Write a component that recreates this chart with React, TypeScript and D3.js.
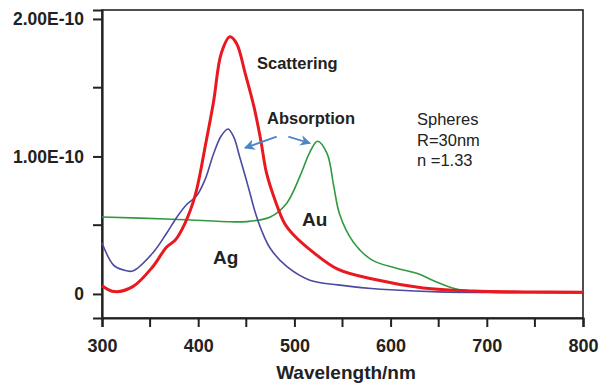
import React, { useEffect, useRef } from 'react';
import * as d3 from 'd3';

// Ag scattering (red), values in units of 1e-10
const scatAgX = [300, 313, 332, 353, 367, 376, 386, 397, 408, 416, 424, 433, 440, 449, 458, 465, 471, 480, 490, 499, 520, 545, 580, 634, 686, 740, 800];
const scatAgY = [0.06, 0.017, 0.053, 0.2, 0.34, 0.39, 0.51, 0.72, 1.1, 1.4, 1.75, 1.87, 1.82, 1.6, 1.36, 1.12, 0.88, 0.68, 0.51, 0.43, 0.30, 0.18, 0.11, 0.044, 0.022, 0.015, 0.012];

// Ag absorption (blue)
const absAgX = [300, 312, 322, 332, 353, 367, 378, 388, 398, 407, 416, 424, 431, 437, 443, 452, 459, 466, 475, 492, 516, 545, 580, 600, 650, 700, 800];
const absAgY = [0.37, 0.21, 0.175, 0.167, 0.30, 0.44, 0.56, 0.65, 0.71, 0.83, 1.02, 1.15, 1.20, 1.14, 1.00, 0.78, 0.60, 0.46, 0.33, 0.20, 0.10, 0.066, 0.04, 0.03, 0.015, 0.01, 0.008];

// Au absorption (green)
const absAuX = [300, 367, 433, 450, 475, 492, 506, 516, 524, 534, 541, 547, 561, 580, 606, 627, 651, 672, 700, 800];
const absAuY = [0.56, 0.545, 0.525, 0.526, 0.56, 0.66, 0.86, 1.03, 1.11, 1.02, 0.78, 0.58, 0.38, 0.25, 0.187, 0.15, 0.078, 0.03, 0.015, 0.012];

const xTicks = [300, 400, 500, 600, 700, 800];
const xMinorTicks = [350, 450, 550, 650, 750];
const yTicks = [0, 1, 2];
const yTickLabels = ['0', '1.00E-10', '2.00E-10'];
const yMinorTicks = [0.5, 1.5];

const FONT = 'Arial, "Liberation Sans", sans-serif';

export default function App() {
  const svgRef = useRef<SVGSVGElement>(null);
  const width = 599;
  const height = 384;
  const margin = { top: 10, right: 16, bottom: 66, left: 102 };

  useEffect(() => {
    const svg = d3.select(svgRef.current);
    svg.selectAll('*').remove();

    const x = d3.scaleLinear().domain([300, 800]).range([margin.left, width - margin.right]);
    const y = d3.scaleLinear().domain([-0.175, 2.065]).range([height - margin.bottom, margin.top]);

    const defs = svg.append('defs');
    defs.append('marker')
      .attr('id', 'arrowhead')
      .attr('viewBox', '0 0 10 10')
      .attr('refX', 9)
      .attr('refY', 5)
      .attr('markerWidth', 6)
      .attr('markerHeight', 6)
      .attr('orient', 'auto')
      .append('path')
      .attr('d', 'M0,0 L10,5 L0,10 L3,5 Z')
      .attr('fill', '#4a86c5');

    // frame
    svg.append('rect')
      .attr('x', margin.left)
      .attr('y', margin.top)
      .attr('width', width - margin.right - margin.left)
      .attr('height', height - margin.bottom - margin.top)
      .attr('fill', 'none')
      .attr('stroke', '#222')
      .attr('stroke-width', 1.6);

    // left axis
    const yAxis = d3.axisLeft(y)
      .tickValues(yTicks)
      .tickSize(9)
      .tickPadding(9)
      .tickFormat((d, i) => yTickLabels[i]);
    const gy = svg.append('g').attr('transform', `translate(${margin.left},0)`).call(yAxis);
    gy.select('.domain').attr('stroke-width', 2.2).attr('stroke', '#222');
    gy.selectAll('.tick line').attr('stroke-width', 2).attr('stroke', '#222');
    gy.selectAll('.tick text')
      .attr('font-family', FONT)
      .attr('font-size', 17.5)
      .attr('font-weight', 'bold')
      .attr('fill', '#222');
    gy.selectAll('.minor')
      .data(yMinorTicks)
      .join('line')
      .attr('x1', -9)
      .attr('x2', 0)
      .attr('y1', d => y(d))
      .attr('y2', d => y(d))
      .attr('stroke', '#222')
      .attr('stroke-width', 2);

    // bottom axis
    const xAxis = d3.axisBottom(x).tickValues(xTicks).tickSize(9).tickPadding(12).tickFormat(d3.format('d'));
    const gx = svg.append('g').attr('transform', `translate(0,${height - margin.bottom})`).call(xAxis);
    gx.select('.domain').attr('stroke-width', 2.2).attr('stroke', '#222');
    gx.selectAll('.tick line').attr('stroke-width', 2).attr('stroke', '#222');
    gx.selectAll('.tick text')
      .attr('font-family', FONT)
      .attr('font-size', 18)
      .attr('font-weight', 'bold')
      .attr('fill', '#222');
    gx.selectAll('.minor')
      .data(xMinorTicks)
      .join('line')
      .attr('x1', d => x(d))
      .attr('x2', d => x(d))
      .attr('y1', 0)
      .attr('y2', 9)
      .attr('stroke', '#222')
      .attr('stroke-width', 2);

    svg.append('text')
      .attr('x', 346)
      .attr('y', 379)
      .attr('text-anchor', 'middle')
      .attr('font-family', FONT)
      .attr('font-size', 19)
      .attr('font-weight', 'bold')
      .attr('fill', '#222')
      .text('Wavelength/nm');

    const line = d3.line<[number, number]>()
      .x(d => x(d[0]))
      .y(d => y(d[1]))
      .curve(d3.curveCatmullRom.alpha(0.5));

    const series = [
      { xs: absAuX, ys: absAuY, color: '#2f9a3e', w: 1.6 },
      { xs: absAgX, ys: absAgY, color: '#4b4aa0', w: 1.6 },
      { xs: scatAgX, ys: scatAgY, color: '#e8191f', w: 3 },
    ];

    series.forEach(s => {
      const pts = s.xs.map((v, i) => [v, s.ys[i]] as [number, number]);
      svg.append('path')
        .datum(pts)
        .attr('d', line)
        .attr('fill', 'none')
        .attr('stroke', s.color)
        .attr('stroke-width', s.w)
        .attr('stroke-linejoin', 'round');
    });

    // absorption arrows, in data coordinates
    const arrows = [
      [[481.6, 1.144], [448.6, 1.062]],
      [[493.7, 1.144], [516.2, 1.096]],
    ];
    svg.selectAll('.arrow')
      .data(arrows)
      .join('line')
      .attr('x1', d => x(d[0][0]))
      .attr('y1', d => y(d[0][1]))
      .attr('x2', d => x(d[1][0]))
      .attr('y2', d => y(d[1][1]))
      .attr('stroke', '#4a86c5')
      .attr('stroke-width', 1.8)
      .attr('marker-end', 'url(#arrowhead)');

    const labels = [
      { t: 'Scattering', x: 257, y: 69, size: 16.5, bold: true },
      { t: 'Absorption', x: 267, y: 124, size: 16.5, bold: true },
      { t: 'Au', x: 302, y: 226, size: 19, bold: true },
      { t: 'Ag', x: 213, y: 264, size: 19, bold: true },
      { t: 'Spheres', x: 417, y: 125, size: 16.5, bold: false },
      { t: 'R=30nm', x: 417, y: 146, size: 16.5, bold: false },
      { t: 'n =1.33', x: 417, y: 166, size: 16.5, bold: false },
    ];
    svg.selectAll('.lbl')
      .data(labels)
      .join('text')
      .attr('x', d => d.x)
      .attr('y', d => d.y)
      .attr('font-family', FONT)
      .attr('font-size', d => d.size)
      .attr('font-weight', d => (d.bold ? 'bold' : 'normal'))
      .attr('fill', '#222')
      .text(d => d.t);
  }, []);

  return (
    <svg
      ref={svgRef}
      width={width}
      height={height}
      style={{ position: 'absolute', left: 0, top: 0, background: '#fff' }}
    ></svg>
  );
}
